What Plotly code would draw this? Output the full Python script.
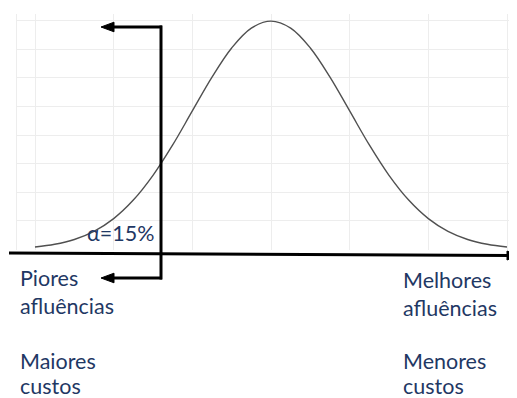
import plotly.graph_objects as go

# ---- data ----
x_vals = [-3.0, -2.75, -2.5, -2.25, -2.0, -1.75, -1.5, -1.25, -1.0, -0.75, -0.5, -0.25,
          0.0, 0.25, 0.5, 0.75, 1.0, 1.25, 1.5, 1.75, 2.0, 2.25, 2.5, 2.75, 3.0]
density = [0.0044, 0.0091, 0.0175, 0.0317, 0.0540, 0.0863, 0.1295, 0.1826, 0.2420, 0.3011,
           0.3521, 0.3867, 0.3989, 0.3867, 0.3521, 0.3011, 0.2420, 0.1826, 0.1295, 0.0863,
           0.0540, 0.0317, 0.0175, 0.0091, 0.0044]
alpha_label = "α=15%"
left_labels = ["Piores", "afluências", "Maiores", "custos"]
right_labels = ["Melhores", "afluências", "Menores", "custos"]

OFF = 8  # page body margin
W, H = 517 - OFF, 398 - OFF
TXT = "#1F3864"
FONT = "Lato"
FS = 21.5


def px(x):
    return (x - OFF) / W


def py(y):
    return 1 - (y - OFF) / H


fig = go.Figure()
fig.add_trace(go.Scatter(x=x_vals, y=density, mode="lines", line_shape="spline",
                         line=dict(color="#505050", width=1.4), hoverinfo="skip",
                         showlegend=False))

shapes = []


def line(x0, y0, x1, y1, w=3):
    shapes.append(dict(type="line", xref="paper", yref="paper",
                       x0=px(x0), y0=py(y0), x1=px(x1), y1=py(y1),
                       line=dict(color="black", width=w)))


def head(tipx, tipy, basex, half, basey=None):
    if basey is None:
        basey = tipy
    path = "M {} {} L {} {} L {} {} Z".format(px(tipx), py(tipy), px(basex), py(basey - half),
                                             px(basex), py(basey + half))
    shapes.append(dict(type="path", xref="paper", yref="paper", path=path,
                       fillcolor="black", line=dict(color="black", width=1)))


# x-axis arrow
line(9, 253, 509, 255.5, 3)
head(519, 255.5, 507, 4.5)
# vertical bracket with arrows
line(161, 25.5, 161, 279.5, 3)
line(162, 27, 111, 27, 3)
head(101, 27, 114, 4.8)
line(162, 278, 111, 278, 3)
head(101, 278, 114, 4.8)

annotations = []


def label(text, x, cy):
    annotations.append(dict(text=text, xref="paper", yref="paper", x=px(x), y=py(cy),
                            xanchor="left", yanchor="middle", showarrow=False,
                            font=dict(family=FONT, size=FS, color=TXT), borderpad=0))


label(alpha_label, 86, 233)
for t, cy in zip(left_labels, [277.5, 305.5, 360.5, 385.5]):
    label(t, 19, cy)
for t, cy in zip(right_labels, [279.5, 307.5, 360.5, 385.5]):
    label(t, 402, cy)

fig.update_layout(
    width=W, height=H, margin=dict(l=0, r=0, t=0, b=0),
    paper_bgcolor="white", plot_bgcolor="white",
    shapes=shapes, annotations=annotations, showlegend=False,
    xaxis=dict(domain=[px(17), 1], range=[-3 - 18 / 78.67, 3 + 10 / 78.67],
               tick0=0, dtick=1, showgrid=True, gridcolor="#EDEDED", gridwidth=1,
               showticklabels=False, zeroline=False, showline=False, ticks=""),
    yaxis=dict(domain=[py(250), py(14)], range=[-0.0009, 0.4114],
               tick0=0, dtick=0.05, showgrid=True, gridcolor="#EDEDED", gridwidth=1,
               showticklabels=False, zeroline=False, showline=True, linecolor="#EDEDED",
               linewidth=1, ticks=""),
)

fig.write_html("out.html")
